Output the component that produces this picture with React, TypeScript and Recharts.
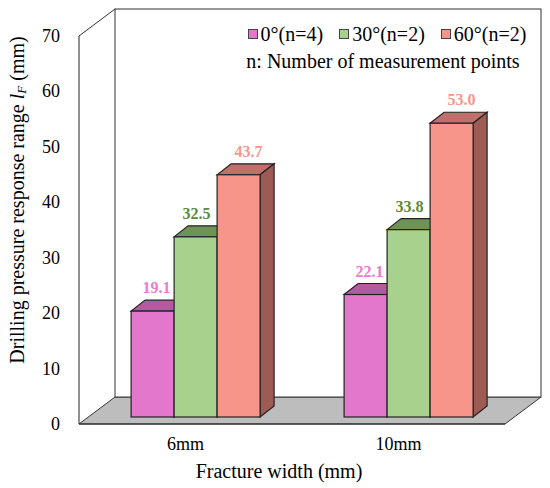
import { BarChart, Bar, XAxis, YAxis, Legend, ReferenceArea, LabelList, Label } from "recharts";

const categories = ["6mm", "10mm"];
const angle0 = [19.1, 22.1];
const angle30 = [32.5, 33.8];
const angle60 = [43.7, 53.0];
const seriesNames = ["0°(n=4)", "30°(n=2)", "60°(n=2)"];
const yTicks = [0, 10, 20, 30, 40, 50, 60, 70];

const FONT = '"Liberation Serif", "Times New Roman", serif';

// depth of the 3D box and of the bars
const DX = 36;
const DY = 27;
const OFF_X = 9.5;
const OFF_Y = 7;
const BAR_DX = 14;
const BAR_DY = 11;

const faces = [
  { front: "#e377cb", top: "#b25b9f", side: "#9e4d8c", label: "#ec7ad3", dx: 4 },
  { front: "#a9d18e", top: "#6f9257", side: "#5e7e49", label: "#5b8a3a", dx: 1 },
  { front: "#f8958a", top: "#c0706a", side: "#9e5b53", label: "#f6978c", dx: 10 },
];

const data = categories.map((c, i) => ({
  name: c,
  a0: angle0[i],
  a30: angle30[i],
  a60: angle60[i],
}));

const BoxWalls = (props: any) => {
  const { x, y, width, height } = props;
  const bottom = y + height;
  return (
    <g>
      <polygon
        points={`${x},${bottom} ${x + width},${bottom} ${x + width + DX},${bottom - DY} ${x + DX},${bottom - DY}`}
        fill="#bdbdbd"
        stroke="#333"
        strokeWidth={1}
      />
      <rect x={x + DX} y={y - DY} width={width} height={height} fill="#fff" stroke="#333" strokeWidth={1} />
      <line x1={x} y1={y} x2={x + DX} y2={y - DY} stroke="#333" strokeWidth={1} />
    </g>
  );
};

const Bar3D = (props: any) => {
  const { x, y, width, height, colors } = props;
  if (height == null || height <= 0) return null;
  const fx = x + OFF_X;
  const fy = y - OFF_Y;
  const stroke = "#222";
  return (
    <g>
      <polygon
        points={`${fx},${fy} ${fx + width},${fy} ${fx + width + BAR_DX},${fy - BAR_DY} ${fx + BAR_DX},${fy - BAR_DY}`}
        fill={colors.top}
        stroke={stroke}
        strokeWidth={1.2}
      />
      <polygon
        points={`${fx + width},${fy} ${fx + width + BAR_DX},${fy - BAR_DY} ${fx + width + BAR_DX},${fy + height - BAR_DY} ${fx + width},${fy + height}`}
        fill={colors.side}
        stroke={stroke}
        strokeWidth={1.2}
      />
      <rect x={fx} y={fy} width={width} height={height} fill={colors.front} stroke={stroke} strokeWidth={1.2} />
    </g>
  );
};

const makeLabel = (colors: any) => (props: any) => {
  const { x, y, width, value } = props;
  return (
    <text
      x={x + OFF_X + width / 2 + colors.dx}
      y={y - OFF_Y - 18}
      textAnchor="middle"
      fontFamily={FONT}
      fontWeight="bold"
      fontSize={16}
      fill={colors.label}
    >
      {Number(value).toFixed(1)}
    </text>
  );
};

const XTick = (props: any) => {
  const { x, y, payload } = props;
  return (
    <text x={x} y={y + 24} textAnchor="middle" fontFamily={FONT} fontSize={18} fill="#000">
      {payload.value}
    </text>
  );
};

const YTick = (props: any) => {
  const { x, y, payload } = props;
  return (
    <text x={x} y={y + 6} textAnchor="end" fontFamily={FONT} fontSize={18} fill="#000">
      {payload.value}
    </text>
  );
};

const renderLegend = (props: any) => {
  const { payload } = props;
  return (
    <div style={{ fontFamily: FONT, fontSize: 20, color: "#000", lineHeight: "27px", width: 290, textAlign: "center" }}>
      <div style={{ paddingLeft: 8 }}>
        {(payload || []).map((entry: any, i: number) => (
          <span key={i} style={{ marginLeft: i === 0 ? 0 : 16 }}>
            <span
              style={{
                display: "inline-block",
                width: 8,
                height: 8,
                background: entry.color,
                border: "1px solid #444",
                marginRight: 3,
                verticalAlign: "middle",
                position: "relative",
                top: -2,
              }}
            />
            {entry.value}
          </span>
        ))}
      </div>
      <div>n: Number of measurement points</div>
    </div>
  );
};

const YTitle = (props: any) => {
  const { viewBox } = props;
  const cx = viewBox.x - 2;
  const cy = viewBox.y + viewBox.height / 2 - 30;
  return (
    <text
      x={cx}
      y={cy}
      transform={`rotate(-90, ${cx}, ${cy})`}
      textAnchor="middle"
      dominantBaseline="central"
      fontFamily={FONT}
      fontSize={20}
      fill="#000"
    >
      Drilling pressure response range <tspan fontStyle="italic">l</tspan>
      <tspan fontStyle="italic" fontSize={13} dy={4}>F</tspan>
      <tspan dy={-4}> (mm)</tspan>
    </text>
  );
};

const XTitle = (props: any) => {
  const { viewBox } = props;
  return (
    <text
      x={viewBox.x + viewBox.width / 2 - 13}
      y={478}
      textAnchor="middle"
      fontFamily={FONT}
      fontSize={20}
      fill="#000"
    >
      Fracture width (mm)
    </text>
  );
};

export default function App() {
  const keys = ["a0", "a30", "a60"];
  return (
    <div style={{ position: "absolute", left: 0, top: 0, background: "#fff" }}>
      <BarChart
        width={550}
        height={488}
        data={data}
        margin={{ top: 36, right: 45, left: 19, bottom: 34 }}
        barCategoryGap="20%"
        barGap={0}
      >
        <ReferenceArea y1={0} y2={70} shape={<BoxWalls />} ifOverflow="visible" isAnimationActive={false} />
        <XAxis
          dataKey="name"
          height={30}
          tickLine={false}
          tickSize={0}
          axisLine={{ stroke: "#222" }}
          tick={<XTick />}
        >
          <Label content={<XTitle />} />
        </XAxis>
        <YAxis
          width={60}
          domain={[0, 70]}
          ticks={yTicks}
          interval={0}
          tickLine={false}
          tickSize={17}
          axisLine={{ stroke: "#222" }}
          tick={<YTick />}
        >
          <Label content={<YTitle />} />
        </YAxis>
        <Legend
          content={renderLegend}
          layout="horizontal"
          verticalAlign="middle"
          wrapperStyle={{ top: 21, left: 238, width: 290 }}
        />
        {keys.map((k, i) => (
          <Bar
            key={k}
            dataKey={k}
            name={seriesNames[i]}
            fill={faces[i].front}
            isAnimationActive={false}
            shape={(p: any) => <Bar3D {...p} colors={faces[i]} />}
          >
            <LabelList dataKey={k} content={makeLabel(faces[i])} />
          </Bar>
        ))}
      </BarChart>
    </div>
  );
}
